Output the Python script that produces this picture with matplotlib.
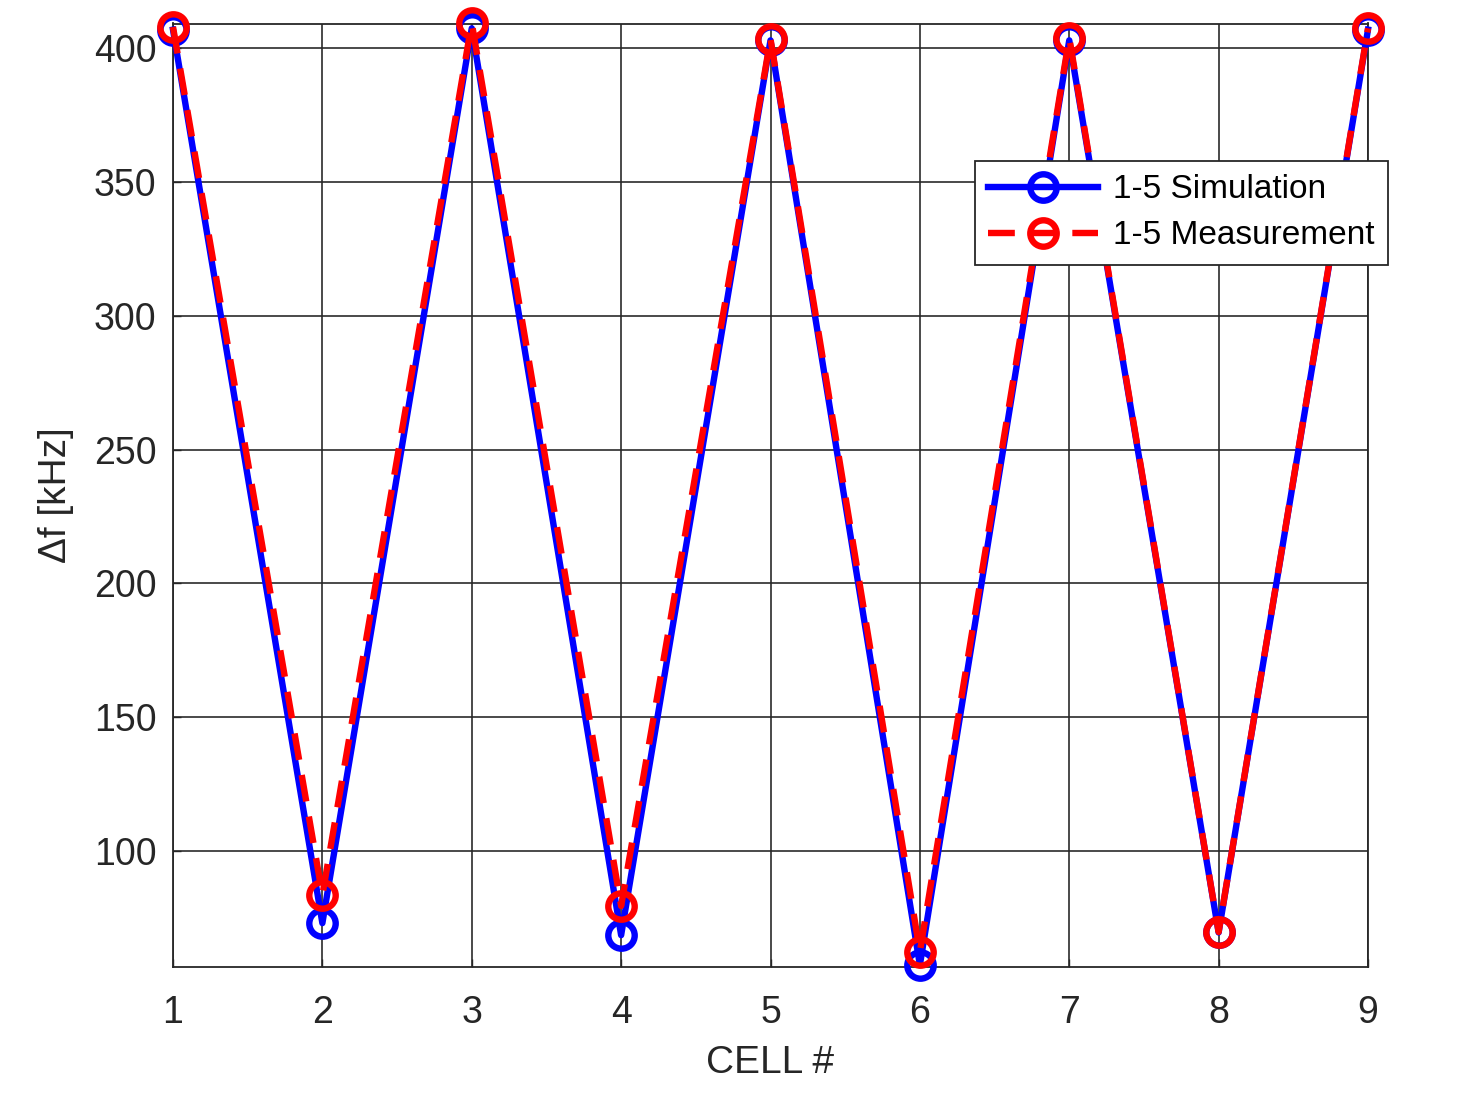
import numpy as np
import matplotlib
matplotlib.use("Agg")
import matplotlib.pyplot as plt
from matplotlib.lines import Line2D

plt.rcParams['font.family'] = ['Liberation Sans', 'DejaVu Sans']

cells = [1, 2, 3, 4, 5, 6, 7, 8, 9]
sim = [407, 73, 407.5, 68.5, 403, 57.3, 403, 69.5, 407]
meas = [408, 83.5, 409.5, 79.4, 403.5, 62.3, 404, 69.7, 407.5]
yticks = [100, 150, 200, 250, 300, 350, 400]

fig = plt.figure(figsize=(14.58, 10.95), dpi=100)
ax = fig.add_axes([173/1458, 1 - 967/1095, (1368-173)/1458, (967-23.5)/1095])

lw = 4.6
ms = 19
mew = 4.6
dash = (0, (4.2, 2.4))
ax.plot(cells, sim, color='#0000ff', lw=lw, marker='o', ms=ms, mew=mew,
        mfc='none', mec='#0000ff', zorder=3, clip_on=False)
ax.plot(cells, meas, color='#ff0000', lw=lw, ls=dash,
        marker='o', ms=ms, mew=mew, mfc='none', mec='#ff0000',
        zorder=4, clip_on=False)

ax.set_xlim(1, 9)
ax.set_ylim(56.6, 409.3)
ax.set_xticks(cells)
ax.set_yticks(yticks)
ax.grid(True, color='#262626', lw=1.3, alpha=0.9)
ax.tick_params(direction='in', length=6, width=1, colors='#262626',
               labelsize=27, pad=12)
ax.tick_params(axis='x', pad=20)
for s in ax.spines.values():
    s.set_color('#262626')
    s.set_linewidth(1.3)

ax.set_xlabel('CELL #', fontsize=28, color='#262626', labelpad=10)
ax.set_ylabel('\u0394f [kHz]', fontsize=28, color='#262626', labelpad=14)

h1 = Line2D([], [], color='#0000ff', lw=lw, marker='o', ms=ms, mew=mew,
            mfc='none', mec='#0000ff')
h2 = Line2D([], [], color='#ff0000', lw=lw, ls=dash, marker='o',
            ms=ms, mew=mew, mfc='none', mec='#ff0000')
leg = ax.legend([h1, h2], ['1-5 Simulation', '1-5 Measurement'],
                loc='upper right', bbox_to_anchor=(1388/1458, 1 - 161/1095),
                bbox_transform=fig.transFigure, borderaxespad=0,
                fontsize=24, fancybox=False, framealpha=1, edgecolor='#262626',
                handlelength=3.3, handletextpad=0.45, borderpad=0.4,
                labelspacing=0.45)
leg.get_frame().set_linewidth(1.3)
leg.set_zorder(10)

fig.savefig('out.png', dpi=100)
